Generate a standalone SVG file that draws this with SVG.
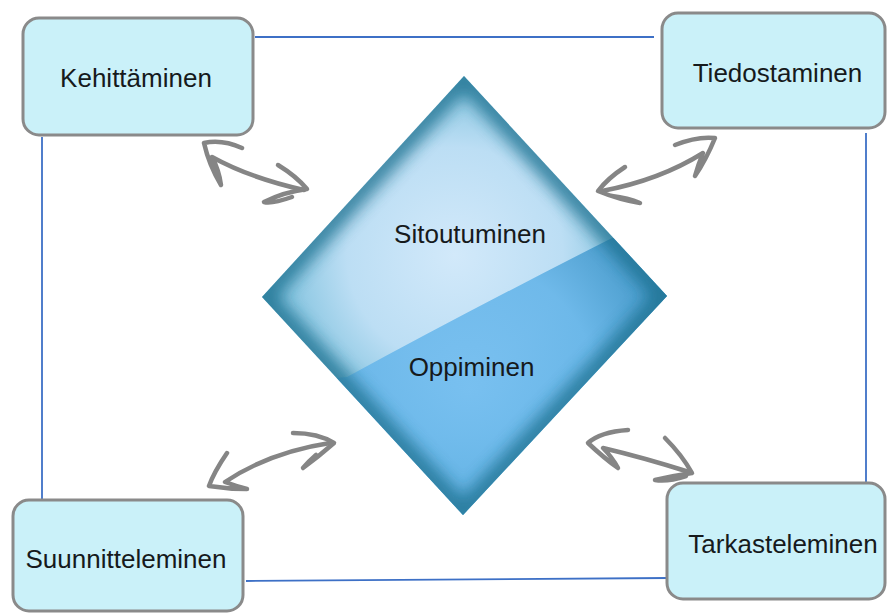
<svg xmlns="http://www.w3.org/2000/svg" width="887" height="613" viewBox="0 0 887 613">
  <defs>
    <style>
      .box { fill: #caf1f9; stroke: #8a8a8a; stroke-width: 3; }
      .label { font-family: "Liberation Sans", Arial, Helvetica, sans-serif; font-size: 26px; fill: #161a1c; text-anchor: middle; }
      .link { stroke: #3d70c6; stroke-width: 1.8; fill: none; }
      .sketch { fill: none; stroke: #858585; stroke-width: 4.5; stroke-linecap: round; stroke-linejoin: round; }
    </style>
    <clipPath id="diamondClip">
      <polygon points="464,76 667,296 463,515 262,297"/>
    </clipPath>
    <radialGradient id="upperFill" cx="455" cy="255" r="240" gradientUnits="userSpaceOnUse">
      <stop offset="0" stop-color="#d2e9fa"/>
      <stop offset="0.45" stop-color="#bcdef4"/>
      <stop offset="0.75" stop-color="#80c2de"/>
      <stop offset="1" stop-color="#3a93ae"/>
    </radialGradient>
    <radialGradient id="lowerFill" cx="470" cy="390" r="230" gradientUnits="userSpaceOnUse">
      <stop offset="0" stop-color="#74bef0"/>
      <stop offset="0.55" stop-color="#68b6e9"/>
      <stop offset="1" stop-color="#3a8fc0"/>
    </radialGradient>
    <filter id="edgeBlur" x="-10%" y="-10%" width="120%" height="120%">
      <feGaussianBlur stdDeviation="8"/>
    </filter>
  </defs>

  <rect width="887" height="613" fill="#ffffff"/>

  <!-- frame connectors between the four corner boxes -->
  <g id="connectors">
    <line class="link" x1="255" y1="37" x2="654" y2="37"/>
    <line class="link" x1="42" y1="137" x2="42" y2="500"/>
    <line class="link" x1="866" y1="133" x2="866" y2="483"/>
    <line class="link" x1="246" y1="581" x2="668" y2="578"/>
  </g>

  <!-- hand-drawn double arrows -->
  <g id="arrows">
    <g id="arrow-tl">
      <path class="sketch" d="M242,148 Q222,139 204,143 Q209,165 221,185 Q219,170 212,157 Q250,178 304,190"/>
      <path class="sketch" d="M278,165 Q296,176 307,189 Q284,192 264,202 Q272,204 292,197"/>
    </g>
    <g id="arrow-tr">
      <path class="sketch" d="M675,145 Q697,136 715,138 Q706,160 695,176 Q698,165 703,153 Q660,180 602,191"/>
      <path class="sketch" d="M625,167 Q608,178 598,191 Q620,200 640,203 Q628,198 612,196"/>
    </g>
    <g id="arrow-bl">
      <path class="sketch" d="M227,453 Q214,472 209,486 Q228,489 247,489 Q236,486 225,482 Q270,452 330,443"/>
      <path class="sketch" d="M293,433 Q318,433 334,443 Q318,457 303,468 Q308,462 316,455"/>
    </g>
    <g id="arrow-br">
      <path class="sketch" d="M628,430 Q600,432 588,443 Q604,458 618,468 Q612,457 603,448 Q645,458 689,472"/>
      <path class="sketch" d="M665,438 Q682,455 692,473 Q672,476 655,480 Q668,482 686,476"/>
    </g>
  </g>

  <!-- central diamond -->
  <g id="center">
    <g clip-path="url(#diamondClip)">
      <rect x="250" y="70" width="430" height="450" fill="url(#upperFill)"/>
      <path d="M250,385 L347,377 Q470,310 612,238 L680,230 L680,520 L250,520 Z" fill="url(#lowerFill)" opacity="0.92"/>
      <polygon points="464,76 667,296 463,515 262,297" fill="none" stroke="#1c7190" stroke-width="24" opacity="0.8" filter="url(#edgeBlur)"/>
    </g>
    <text class="label" x="470" y="243">Sitoutuminen</text>
    <text class="label" x="471.5" y="376">Oppiminen</text>
  </g>

  <g id="kehittaminen">
    <rect class="box" x="23" y="18" width="230" height="117" rx="16"/>
    <text class="label" x="136" y="87">Kehittäminen</text>
  </g>

  <g id="tiedostaminen">
    <rect class="box" x="662" y="13" width="223" height="115" rx="16"/>
    <text class="label" x="777.5" y="82">Tiedostaminen</text>
  </g>

  <g id="suunnitteleminen">
    <rect class="box" x="13" y="500" width="230" height="111" rx="16"/>
    <text class="label" x="126" y="568">Suunnitteleminen</text>
  </g>

  <g id="tarkasteleminen">
    <rect class="box" x="667" y="483" width="218" height="116" rx="16"/>
    <text class="label" x="783" y="553">Tarkasteleminen</text>
  </g>
</svg>
